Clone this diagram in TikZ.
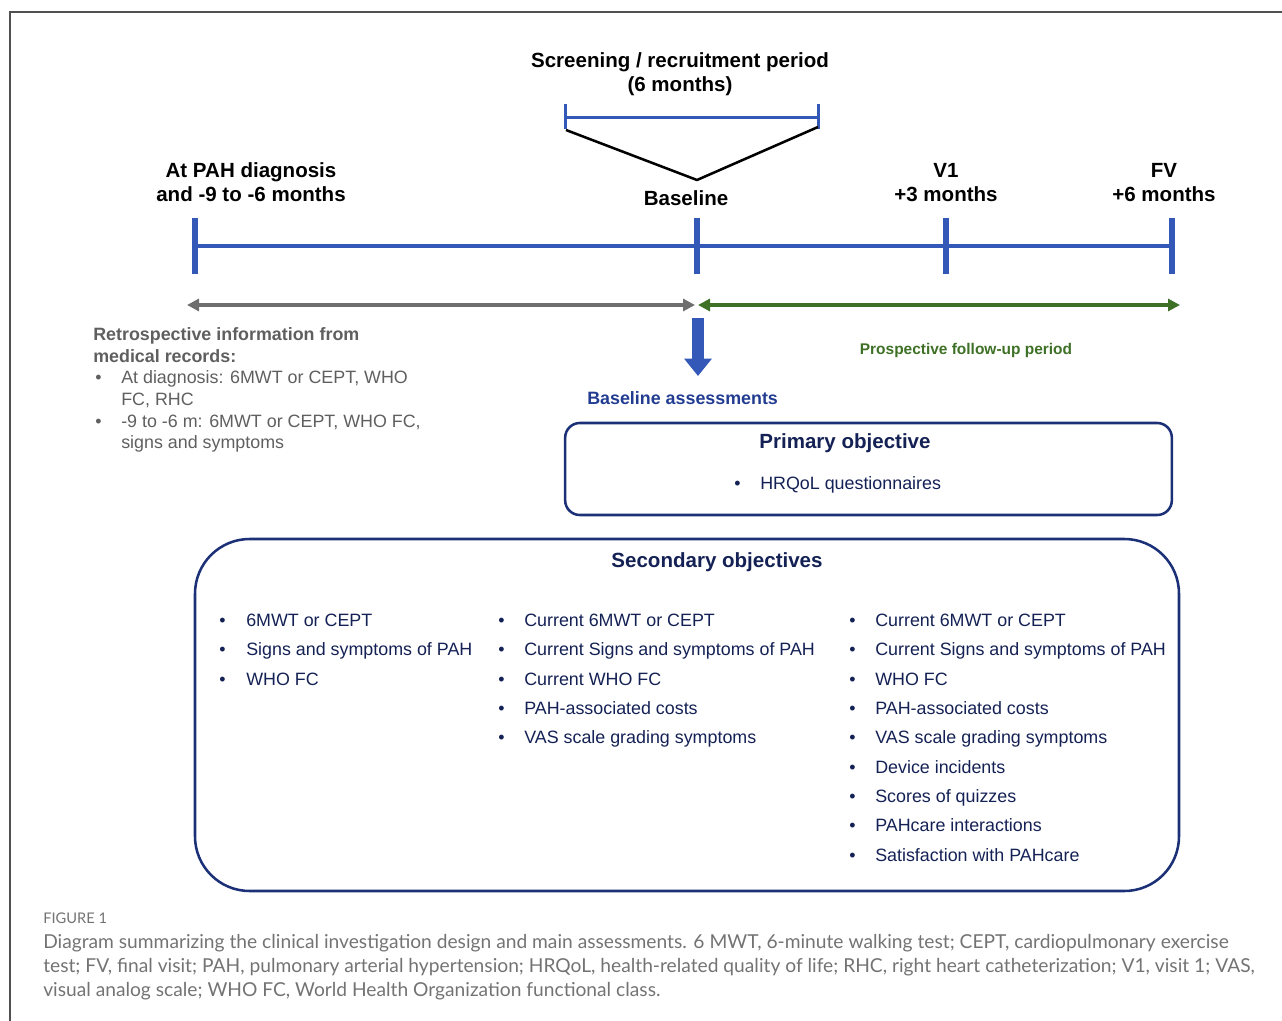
\documentclass[tikz,border=0pt]{standalone}
\usepackage{fontspec}
\setmainfont{Liberation Sans}
\newfontfamily\capfont{Lato}
\usetikzlibrary{arrows.meta,calc}
\definecolor{tlblue}{RGB}{51,88,184}
\definecolor{navy}{RGB}{28,48,120}
\definecolor{navytext}{RGB}{20,33,85}
\definecolor{bablue}{RGB}{33,60,145}
\definecolor{retgray}{RGB}{95,95,95}
\definecolor{arrgray}{RGB}{110,110,110}
\definecolor{fgreen}{RGB}{62,112,38}
\definecolor{capgray}{RGB}{115,115,115}
\definecolor{bordergray}{RGB}{80,80,80}
\newcommand{\bul}[1]{\llap{\makebox[#1][l]{•}}}
\begin{document}
\begin{tikzpicture}[x=0.75pt,y=-0.75pt,
  hdr/.style={font=\fontsize{15.4}{18}\selectfont\bfseries, align=center, inner sep=0pt},
  ttl/.style={font=\fontsize{15.4}{18}\selectfont\bfseries, text=navytext, inner sep=0pt},
  body/.style={font=\fontsize{13.4}{16.2}\selectfont, inner sep=0pt},
  col/.style={font=\fontsize{13.4}{22}\selectfont, text=navytext, align=left, inner sep=0pt, anchor=north west},
  tickmark/.style={tlblue, line width=4pt},
  tline/.style={tlblue, line width=3pt},
  objbox/.style={draw=navy, line width=1.9pt, inner sep=0pt},
  dbl/.style={line width=2.6pt, {Triangle[width=9pt,length=9pt]}-{Triangle[width=9pt,length=9pt]}}
]
\useasboundingbox (0,0) rectangle (1282,1021);
% frame
\draw[bordergray, line width=1.1pt] (10,1021) -- (10,12) -- (1282,12);

% screening bracket
\node[hdr] (scr) at (680,74) {Screening / recruitment period\\(6 months)};
\coordinate (b0) at (565,117);
\coordinate (b1) at (818,117);
\draw[tlblue, line width=2.25pt] (b0) -- (b1);
\draw[tlblue, line width=2.25pt] ($(b0)+(0,-13)$) -- ($(b0)+(0,12)$);
\draw[tlblue, line width=2.25pt] ($(b1)+(0,-13)$) -- ($(b1)+(0,12)$);
\coordinate (v0) at (566,130);
\coordinate (vm) at (697,180);
\coordinate (v1) at (818,127);
\draw[black, line width=1.9pt, line join=round] (v0) -- (vm) -- (v1);

% headers
\node[hdr] (diag) at (251,182.5) {At PAH diagnosis\\and -9 to -6 months};
\node[hdr] (base) at (686,198.5) {Baseline};
\node[hdr] (vone) at (946,183) {V1\\+3 months};
\node[hdr] (fv) at (1164,183) {FV\\+6 months};

% timeline
\coordinate (t0) at (195,246);
\coordinate (t1) at (697,246);
\coordinate (t2) at (946,246);
\coordinate (t3) at (1172,246);
\draw[tline] (t0) -- (t3);
\foreach \t in {t0,t1,t2,t3}
  \draw[tickmark] ($(\t)+(0,-28)$) -- ($(\t)+(0,28)$);

% period arrows
\coordinate (g0) at (187,305);
\coordinate (g1) at (695,305);
\coordinate (gr0) at (698,305);
\coordinate (gr1) at (1180,305);
\draw[dbl, arrgray] (g0) -- (g1);
\draw[dbl, fgreen] (gr0) -- (gr1);

% down arrow
\coordinate (da0) at (698,318);
\coordinate (da1) at (698,376);
\draw[tlblue, line width=8.5pt, -{Triangle[width=20pt,length=13pt]}] (da0) -- (da1);

\node[font=\fontsize{11.6}{14}\selectfont\bfseries, text=fgreen, inner sep=0pt] (prosp) at (966,350) {Prospective follow-up period};
\node[font=\fontsize{13.4}{16}\selectfont\bfseries, text=bablue, anchor=west, inner sep=0pt] (bass) at (587,398) {Baseline assessments};

% retrospective
\node[body, text=retgray, align=left, anchor=north west] (retro) at (93,327.5)
  {\textbf{Retrospective information from}\\
   \textbf{medical records:}\\
   \hspace*{1.5pt}\makebox[19.5pt][l]{•}At diagnosis: 6MWT or CEPT, WHO\\
   \hspace*{21pt}FC, RHC\\
   \hspace*{1.5pt}\makebox[19.5pt][l]{•}-9 to -6 m: 6MWT or CEPT, WHO FC,\\
   \hspace*{21pt}signs and symptoms};

% primary objective
\node[objbox, rounded corners=11pt, minimum width=455pt, minimum height=69pt] (prim) at (868.5,469) {};
\node[ttl] (primt) at (845,443) {Primary objective};
\node[body, text=navytext, anchor=west] (hrq) at (760,485) {\bul{19.5pt}HRQoL questionnaires};

% secondary objectives
\node[objbox, rounded corners=41pt, minimum width=738pt, minimum height=264pt] (sec) at (687,715) {};
\node[ttl] (sect) at (717,562) {Secondary objectives};
\node[col] (c1) at (246,613.6) {\bul{20.25pt}6MWT or CEPT\\
  \bul{20.25pt}Signs and symptoms of PAH\\
  \bul{20.25pt}WHO FC};
\node[col] (c2) at (524,613.6) {\bul{19.5pt}Current 6MWT or CEPT\\
  \bul{19.5pt}Current Signs and symptoms of PAH\\
  \bul{19.5pt}Current WHO FC\\
  \bul{19.5pt}PAH-associated costs\\
  \bul{19.5pt}VAS scale grading symptoms};
\node[col] (c3) at (875,613.6) {\bul{19.5pt}Current 6MWT or CEPT\\
  \bul{19.5pt}Current Signs and symptoms of PAH\\
  \bul{19.5pt}WHO FC\\
  \bul{19.5pt}PAH-associated costs\\
  \bul{19.5pt}VAS scale grading symptoms\\
  \bul{19.5pt}Device incidents\\
  \bul{19.5pt}Scores of quizzes\\
  \bul{19.5pt}PAHcare interactions\\
  \bul{19.5pt}Satisfaction with PAHcare};

% caption
\node[font=\capfont\fontsize{11}{12}\selectfont, text=capgray, anchor=west, inner sep=0pt] (figl) at (43,918) {FIGURE 1};
\node[font=\capfont\fontsize{14.4}{18}\selectfont, text=capgray, anchor=north west, align=left, inner sep=0pt] (cap) at (43,934.5)
  {Diagram summarizing the clinical investigation design and main assessments. 6 MWT, 6-minute walking test; CEPT, cardiopulmonary exercise\\
   test; FV, final visit; PAH, pulmonary arterial hypertension; HRQoL, health-related quality of life; RHC, right heart catheterization; V1, visit 1; VAS,\\
   visual analog scale; WHO FC, World Health Organization functional class.};
\end{tikzpicture}
\end{document}
